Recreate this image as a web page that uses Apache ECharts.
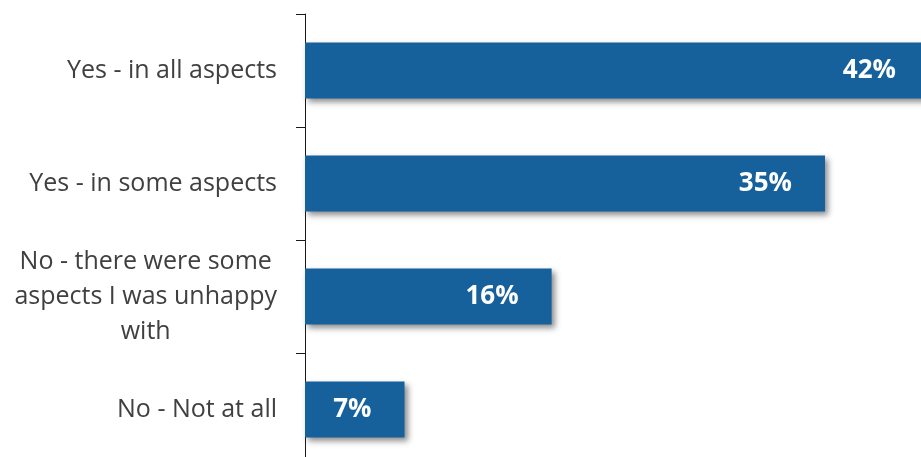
<!DOCTYPE html>
<html>
<head>
<meta charset="utf-8">
<script src="https://cdn.jsdelivr.net/npm/echarts@6/dist/echarts.min.js"></script>
<style>
  html, body { margin: 0; padding: 0; background: #fff; }
  #chart { width: 921px; height: 457px; }
</style>
</head>
<body>
<div id="chart"></div>
<script>
// data
const categories = ['Yes - in all aspects', 'Yes - in some aspects', 'No - there were some\naspects I was unhappy\nwith', 'No - Not at all'];
const values = [42, 35, 16.6, 6.7];
const valueLabels = ['42%', '35%', '16%', '7%'];

const chart = echarts.init(document.getElementById('chart'));

const option = {
  animation: false,
  grid: { left: 305, top: 14, width: 624, height: 452, outerBoundsMode: 'none' },
  xAxis: {
    type: 'value',
    min: 0,
    max: 42,
    show: false
  },
  yAxis: {
    type: 'category',
    inverse: true,
    data: categories,
    axisLine: { show: true, lineStyle: { color: '#1a1a1a', width: 1 } },
    axisTick: { show: true, length: 9, lineStyle: { color: '#1a1a1a' } },
    axisLabel: {
      margin: 28,
      formatter: function (v) {
        return v.split('\n').map(function (s) { return '{c|' + s + '}'; }).join('\n');
      },
      rich: {
        c: { align: 'center', fontFamily: 'Open Sans', fontSize: 25, color: '#404040', lineHeight: 35 }
      }
    }
  },
  series: [{
    type: 'bar',
    data: values,
    barWidth: 56,
    itemStyle: {
      color: '#16609c',
      shadowColor: 'rgba(0,0,0,0.45)',
      shadowBlur: 6,
      shadowOffsetX: 3,
      shadowOffsetY: 3
    },
    label: {
      show: true,
      position: 'insideRight',
      distance: 33,
      color: '#fff',
      fontFamily: 'Open Sans',
      fontWeight: 'bold',
      fontSize: 26,
      formatter: function (p) { return valueLabels[p.dataIndex]; }
    }
  }]
};

chart.setOption(option);
</script>
</body>
</html>
